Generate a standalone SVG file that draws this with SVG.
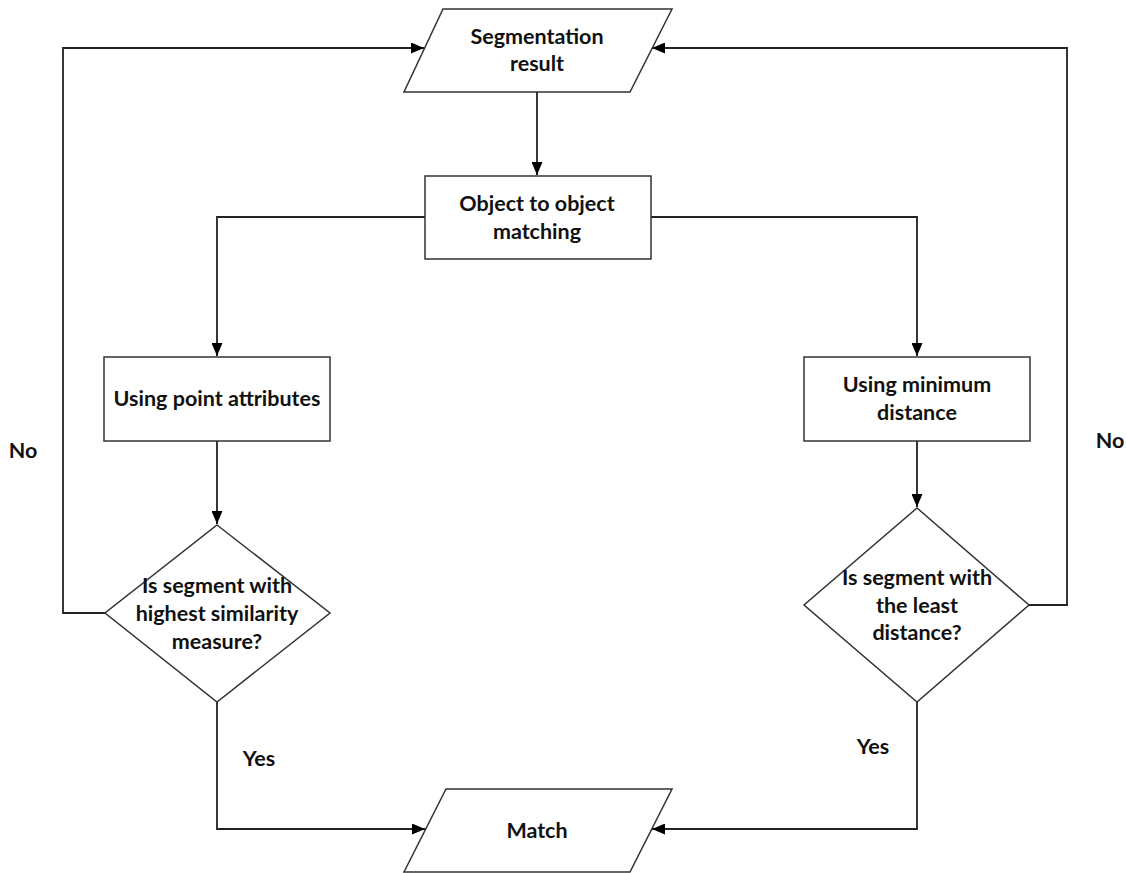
<svg xmlns="http://www.w3.org/2000/svg" width="1126" height="873" viewBox="0 0 1126 873">
<defs>
<marker id="arr" viewBox="0 0 13 11" refX="13" refY="5.5" markerWidth="13" markerHeight="11" markerUnits="userSpaceOnUse" orient="auto">
<path d="M0,0 L13,5.5 L0,11 Z" fill="#000"/>
</marker>
</defs>
<style>
.shape{fill:#fff;stroke:#333;stroke-width:1.5}
.conn{fill:none;stroke:#222;stroke-width:1.8;marker-end:url(#arr)}
text{font-family:Lato,"Liberation Sans",sans-serif;font-weight:bold;font-size:21.5px;fill:#111;text-anchor:middle}
</style>
<rect width="1126" height="873" fill="#fff"/>
<g id="connectors">
<path class="conn" d="M537,92 L537,175"/>
<path class="conn" d="M425,217 L217,217 L217,356"/>
<path class="conn" d="M651,217 L917,217 L917,356"/>
<path class="conn" d="M217,441 L217,524"/>
<path class="conn" d="M917,441 L917,507"/>
<path class="conn" d="M105,613 L63,613 L63,48 L424,48"/>
<path class="conn" d="M1029,605 L1067,605 L1067,48 L652,48"/>
<path class="conn" d="M217,702 L217,829 L425,829"/>
<path class="conn" d="M917,702 L917,829 L652,829"/>
</g>
<g id="segmentation-result">
<polygon class="shape" points="443,9 672,9 630,92 404,92"/>
<text x="537" y="44">Segmentation</text>
<text x="537" y="71">result</text>
</g>
<g id="object-matching">
<rect class="shape" x="425" y="176" width="226" height="83"/>
<text x="537" y="211">Object to object</text>
<text x="537" y="239">matching</text>
</g>
<g id="point-attributes">
<rect class="shape" x="104" y="357" width="226" height="84"/>
<text x="217" y="406">Using point attributes</text>
</g>
<g id="minimum-distance">
<rect class="shape" x="804" y="357" width="226" height="84"/>
<text x="917" y="392">Using minimum</text>
<text x="917" y="420">distance</text>
</g>
<g id="similarity-decision">
<polygon class="shape" points="217,525 330,613 217,702 105,613"/>
<text x="217" y="593">Is segment with</text>
<text x="217" y="621">highest similarity</text>
<text x="217" y="649">measure?</text>
</g>
<g id="distance-decision">
<polygon class="shape" points="917,508 1029,605 917,702 804,605"/>
<text x="917" y="585">Is segment with</text>
<text x="917" y="613">the least</text>
<text x="917" y="640">distance?</text>
</g>
<g id="match">
<polygon class="shape" points="446,789 672,789 630,872 404,872"/>
<text x="537" y="838">Match</text>
</g>
<g id="labels">
<text x="23" y="458">No</text>
<text x="1110" y="448">No</text>
<text x="259" y="766">Yes</text>
<text x="873" y="754">Yes</text>
</g>
</svg>
